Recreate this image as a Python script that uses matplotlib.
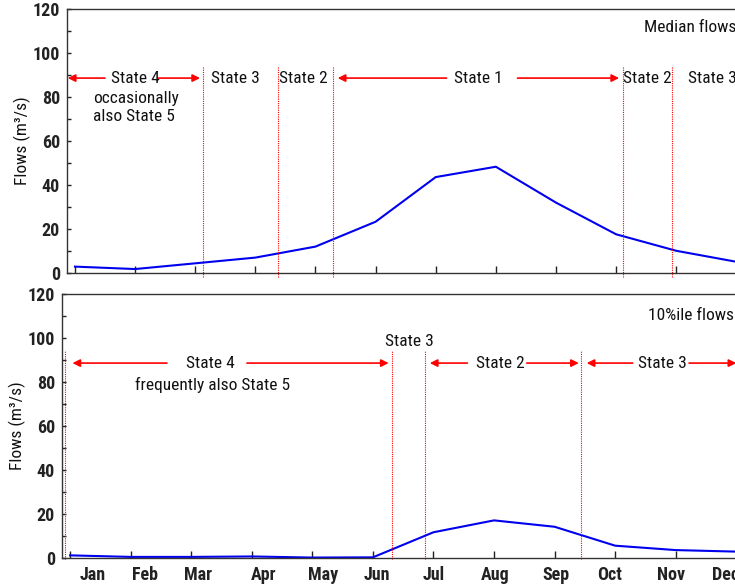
import matplotlib.pyplot as plt
from matplotlib import font_manager
from matplotlib.ticker import MultipleLocator

# pick a narrow sans if one is installed
installed = {f.name for f in font_manager.fontManager.ttflist}
narrow = None
for name in ["Liberation Sans Narrow", "DejaVu Sans Condensed", "Roboto Condensed", "Open Sans Condensed"]:
    if name in installed:
        narrow = name
        break
if narrow:
    plt.rcParams["font.family"] = [narrow, "DejaVu Sans"]
    tick_fs, text_fs = 13, 12.5
else:
    plt.rcParams["font.family"] = ["Liberation Sans", "DejaVu Sans"]
    tick_fs, text_fs = 11, 10

# data
months = ["Jan", "Feb", "Mar", "Apr", "May", "Jun", "Jul", "Aug", "Sep", "Oct", "Nov", "Dec"]
month_idx = list(range(1, 13))
median_flows = [2.9, 1.8, 4.4, 7.0, 12.0, 23.3, 43.6, 48.3, 32.0, 17.6, 10.1, 5.1]
p10_flows = [1.2, 0.5, 0.5, 0.7, 0.2, 0.3, 11.7, 17.1, 14.2, 5.6, 3.6, 2.9]

# state boundaries (month units)
top_bounds = [3.13, 4.37, 5.29, 10.12, 10.93]
bot_bounds = [0.92, 6.31, 6.86, 9.43]

# month label positions (labels sit off the ticks in the original)
label_pos = [1.37, 2.24, 3.12, 4.19, 5.18, 6.06, 7.01, 8.02, 9.02, 9.90, 10.93, 11.82]

fig = plt.figure(figsize=(7.35, 5.86), dpi=100)
W, H = 735, 586
ax1 = fig.add_axes([67 / W, (H - 273) / H, 1.0 - 67 / W + 0.01, 264 / H])
ax2 = fig.add_axes([62 / W, (H - 558) / H, 1.0 - 62 / W + 0.01, 264 / H])

for ax in (ax1, ax2):
    ax.set_ylim(0, 120)
    ax.yaxis.set_major_locator(MultipleLocator(20))
    ax.yaxis.set_minor_locator(MultipleLocator(10))
    ax.set_xticks(month_idx)
    ax.set_xticklabels([])
    ax.tick_params(axis="y", which="both", direction="in", length=3, width=1,
                   labelsize=tick_fs, pad=5, colors="#222222")
    ax.tick_params(axis="x", which="major", direction="in", length=5, width=1, colors="#222222")
    for lab in ax.get_yticklabels():
        lab.set_fontweight("bold")
    for s in ax.spines.values():
        s.set_color("#333333")
        s.set_linewidth(1)
    ax.spines["right"].set_visible(False)
    ax.set_ylabel("Flows (m³/s)", fontsize=text_fs, labelpad=1, color="#111111")

ax1.set_xlim(0.867, 12.1)
ax2.set_xlim(0.867, 12.1)

ax1.plot(month_idx, median_flows, color="#0000ee", lw=1.5, clip_on=False)
ax2.plot(month_idx, p10_flows, color="#0000ee", lw=1.5, clip_on=False)

# bottom month labels via minor ticks
ax2.set_xticks(label_pos, minor=True)
ax2.set_xticklabels(months, minor=True, fontsize=tick_fs, fontweight="bold")
ax2.tick_params(axis="x", which="minor", length=0, pad=6, colors="#222222")

# state boundaries
ax1.vlines(top_bounds, -2, 94, colors="red", linestyles=(0, (1, 1)), lw=0.8, clip_on=False)
ax2.vlines(bot_bounds, -0.5, 94, colors="red", linestyles=(0, (1, 1)), lw=0.8, clip_on=False)


def arrow(ax, tail, head, y=88.6):
    ax.annotate("", xy=(head, y), xytext=(tail, y),
                arrowprops=dict(arrowstyle="-|>", color="red", lw=1.2,
                                mutation_scale=11, shrinkA=0, shrinkB=0),
                annotation_clip=False)


tkw = dict(fontsize=text_fs, color="#111111", va="center")

# top panel annotations
ax1.text(12.0, 111.4, "Median flows", ha="right", **tkw)
arrow(ax1, 1.5, 0.88)
arrow(ax1, 2.38, 3.08)
ax1.text(2.0, 88.6, "State 4", ha="center", **tkw)
ax1.text(1.30, 75.3, "occasionally\nalso State 5", ha="left", linespacing=1.2, **tkw)
ax1.text(3.66, 88.6, "State 3", ha="center", **tkw)
ax1.text(4.80, 88.6, "State 2", ha="center", **tkw)
arrow(ax1, 7.18, 5.37)
arrow(ax1, 8.36, 10.05)
ax1.text(7.71, 88.6, "State 1", ha="center", **tkw)
ax1.text(10.52, 88.6, "State 2", ha="center", **tkw)
ax1.text(11.20, 88.6, "State 3", ha="left", **tkw)

# bottom panel annotations
ax2.text(11.97, 110, "10%ile flows", ha="right", **tkw)
arrow(ax2, 2.60, 1.04)
arrow(ax2, 3.92, 6.26)
ax2.text(3.31, 88.6, "State 4", ha="center", **tkw)
ax2.text(3.36, 78.6, "frequently also State 5", ha="center", **tkw)
ax2.text(6.61, 98.2, "State 3", ha="center", **tkw)
arrow(ax2, 7.56, 6.94)
arrow(ax2, 8.54, 9.40)
ax2.text(8.10, 88.6, "State 2", ha="center", **tkw)
arrow(ax2, 10.29, 9.53)
arrow(ax2, 11.22, 12.0)
ax2.text(10.78, 88.6, "State 3", ha="center", **tkw)

fig.savefig("out.png", dpi=100)
